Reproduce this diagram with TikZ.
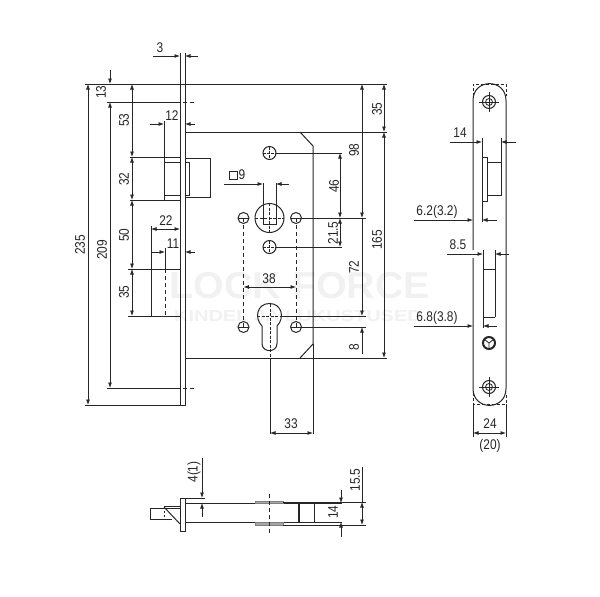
\documentclass[tikz,border=0pt]{standalone}
\usepackage{fontspec}
\setmainfont{Liberation Sans}
\usetikzlibrary{arrows.meta}
\definecolor{inkline}{gray}{0.15}
\definecolor{markfill}{gray}{0.945}
\tikzset{
	line/.style={draw=inkline, line width=1pt},
	thin line/.style={draw=inkline, line width=0.8pt},
	hidden/.style={draw=inkline, line width=1pt, dash pattern=on 4pt off 3pt},
	dimtip/.style={thin line, -{Latex[length=5.5pt,width=4pt]}},
	dimtips/.style={thin line, {Latex[length=5.5pt,width=4pt]}-{Latex[length=5.5pt,width=4pt]}},
	dimfont/.style={inner sep=0, text=inkline, font=\fontsize{14}{15}\selectfont},
	dimtext/.style={dimfont, xscale=0.85},
	dimup/.style={dimfont, rotate=90, xscale=0.85},
	watermark/.style={inner sep=0, text=markfill, font=\bfseries\fontsize{37.5}{38}\selectfont}
}
\begin{document}
\begin{tikzpicture}[x=1pt, y=-1pt]
	\useasboundingbox (0, 0) rectangle (600, 597);
	% watermark
	\node[watermark, xscale=1.05] (brand) at (300, 286) {LOCK FORCE};
	\node[watermark, font=\bfseries\fontsize{16}{17}\selectfont, xscale=1.25] (slogan) at (298, 316) {KINDEL JA LUKUSTUSED};

	% front view, forend
	\draw[line] (180, 53) -- (180, 405) -- (185, 405) -- (185, 53);
	\draw[line] (85, 84) -- (387, 84);
	\draw[line] (85, 405) -- (185, 405);
	\draw[line] (185, 132) -- (387, 132);
	\draw[line] (185, 358) -- (387, 358);
	\draw[line] (300, 132) -- (313, 146) -- (313, 344) -- (300, 358);
	\draw[line] (313, 344) -- (313, 434);
	% latch and bolts
	\draw[line] (130, 157) -- (180, 157) (130, 200) -- (180, 200);
	\draw[line] (164, 121) -- (164, 200) (164, 162) -- (180, 162) (164, 195) -- (180, 195);
	\draw[line] (185, 162) -- (189, 162) -- (189, 195) -- (185, 195);
	\draw[line] (185, 158) -- (210, 158) -- (210, 197) -- (185, 197);
	\draw[line] (128, 269) -- (180, 269) (128, 316) -- (180, 316);
	\draw[line] (151, 226) -- (151, 316);
	\draw[line] (165, 248) -- (165, 269);
	\draw[hidden] (165, 269) -- (165, 316);
	% holes
	\foreach \y in {153, 247} {
		\draw[line] (269.5, \y) circle (6.5);
		\draw[hidden, dash pattern=on 3pt off 1pt] (263, \y) -- (276, \y) (269.5, \y-6.5) -- (269.5, \y+6.5);
	}
	\foreach \x in {243.5, 296} {
		\draw[line] (\x, 218) circle (5.5);
		\draw[line] (\x, 327) circle (5.5);
		\draw[thin line] (\x-5.5, 218) -- (\x+5.5, 218) (\x-5.5, 327) -- (\x+5.5, 327);
		\draw[hidden] (\x, 218) -- (\x, 327);
	}
	% spindle
	\draw[line] (269.5, 218) circle (14.5);
	\draw[line] (263, 183) -- (263, 224) -- (276, 224) -- (276, 183);
	\draw[hidden, dash pattern=on 3pt off 1.5pt] (255, 218) -- (284, 218) (269.5, 203) -- (269.5, 233);
	% key hole
	\draw[line] (262, 326) .. controls (254, 318) and (257, 303.5) .. (269.5, 303.5)
		.. controls (282, 303.5) and (285, 318) .. (277, 326) -- (277, 343.5)
		.. controls (277, 353) and (262, 353) .. (262, 343.5) -- cycle;
	\draw[hidden, dash pattern=on 3pt off 1.5pt] (257, 316) -- (282, 316) (270, 304) -- (270, 358);
	\draw[line] (270, 358) -- (270, 434);

	% left dimensions
	\draw[dimtips] (88, 84) -- (88, 405);
	\node[dimup] (l235) at (80, 245) {235};
	\draw[line] (107, 102) -- (176, 102) (107, 388) -- (176, 388);
	\draw[hidden] (176, 102) -- (195, 102) (176, 388) -- (195, 388);
	\draw[dimtips] (110, 102) -- (110, 388);
	\node[dimup] (l209) at (102, 250) {209};
	\draw[dimtip] (110, 70) -- (110, 84);
	\node[dimup] (l13) at (101, 92) {13};
	\draw[dimtips] (132, 84) -- (132, 157);
	\draw[dimtips] (132, 157) -- (132, 200);
	\draw[dimtips] (132, 200) -- (132, 269);
	\draw[dimtips] (132, 269) -- (132, 316);
	\node[dimup] (l53) at (124, 120) {53};
	\node[dimup] (l32) at (124, 179) {32};
	\node[dimup] (l50) at (124, 235) {50};
	\node[dimup] (l35) at (124, 292) {35};
	% top dimensions
	\draw[dimtip] (153, 56) -- (180, 56);
	\draw[dimtip] (198, 56) -- (185, 56);
	\node[dimtext] (t3) at (160, 48) {3};
	\draw[dimtip] (150, 124) -- (164, 124);
	\draw[dimtip] (195, 124) -- (185, 124);
	\node[dimtext] (t12) at (172, 116) {12};
	\draw[dimtips] (151, 229) -- (180, 229);
	\node[dimtext] (t22) at (166, 221) {22};
	\draw[dimtip] (151, 252) -- (165, 252);
	\draw[dimtip] (195, 252) -- (185, 252);
	\node[dimtext] (t11) at (173, 244) {11};
	% spindle size
	\draw[dimtip] (224, 184) -- (263, 184);
	\draw[dimtip] (289, 184) -- (276, 184);
	\draw[thin line] (229, 171) rectangle (237, 179);
	\node[dimtext] (t9) at (242, 175) {9};
	% right dimensions
	\draw[line] (276, 153) -- (342, 153) (301, 218) -- (366, 218) (276, 247) -- (342, 247);
	\draw[dimtips] (340, 153) -- (340, 218);
	\draw[dimtips] (340, 218) -- (340, 247);
	\node[dimup] (r46) at (334, 186) {46};
	\node[dimup] (r215) at (333, 233) {21.5};
	\draw[dimtips] (362, 84) -- (362, 218);
	\node[dimup] (r98) at (354, 150) {98};
	\draw[line] (282, 316) -- (366, 316) (301, 327) -- (366, 327);
	\draw[dimtip] (362, 218) -- (362, 316);
	\node[dimup] (r72) at (354, 267) {72};
	\draw[dimtip] (362, 354) -- (362, 327);
	\node[dimup] (r8) at (354, 347) {8};
	\draw[dimtips] (384, 84) -- (384, 132);
	\draw[dimtips] (384, 132) -- (384, 358);
	\node[dimup] (r35) at (377, 109) {35};
	\node[dimup] (r165) at (377, 240) {165};
	\draw[dimtips] (270, 433) -- (313, 433);
	\node[dimtext] (b33) at (291, 424) {33};
	\node[dimtext] (m38) at (269, 279) {38};
	\draw[dimtips] (243.5, 287) -- (296, 287);

	% side view
	\draw[line] (473, 250) -- (473, 100.5) .. controls (473, 78) and (506, 78) .. (506, 100.5) -- (506, 388.5)
		.. controls (506, 411) and (473, 411) .. (473, 388.5) -- (473, 258);
	\draw[hidden, dash pattern=on 3pt off 2pt] (473, 96) -- (473, 84) -- (506, 84) -- (506, 96);
	\draw[hidden, dash pattern=on 3pt off 2pt] (473, 393) -- (473, 404) -- (506, 404) -- (506, 393);
	\draw[line] (482, 138) -- (482, 222) (501, 138) -- (501, 162);
	\draw[line] (482, 157) -- (487, 157) -- (487, 201) -- (482, 201);
	\draw[line] (487, 162) -- (501, 162) -- (501, 195) -- (487, 195);
	\draw[line] (483, 250) -- (483, 328) (495, 250) -- (495, 317) (483, 269) -- (495, 269) (483, 317) -- (495, 317);
	% screws
	\foreach \y in {102, 387} {
		\draw[line] (489, \y) circle (6.5);
		\draw[thin line] (489, \y) circle (3.5);
		\draw[thin line] (479, \y) -- (499, \y) (489, \y-10) -- (489, \y+10);
	}
	\draw[draw=inkline, line width=2pt] (489, 343) circle (6);
	\draw[thin line] (489, 343) -- (489, 349) (489, 343) -- (484, 339) (489, 343) -- (494, 339);
	% side dimensions
	\draw[dimtip] (450, 142) -- (482, 142);
	\draw[dimtip] (516, 142) -- (501, 142);
	\node[dimtext] (s14) at (460, 133) {14};
	\draw[dimtip] (414, 220) -- (473, 220);
	\draw[dimtip] (497, 220) -- (482, 220);
	\node[dimtext] (s62) at (437, 212) {6.2(3.2)};
	\draw[dimtip] (447, 254) -- (483, 254);
	\draw[dimtip] (509, 254) -- (495, 254);
	\node[dimtext] (s85) at (458, 245) {8.5};
	\draw[dimtip] (414, 326) -- (473, 326);
	\draw[dimtip] (497, 326) -- (483, 326);
	\node[dimtext] (s68) at (437, 318) {6.8(3.8)};
	\draw[line] (473, 404) -- (473, 437) (506, 404) -- (506, 437);
	\draw[dimtips] (473, 433) -- (506, 433);
	\node[dimtext] (s24) at (490, 424) {24};
	\node[dimtext] (s20) at (490, 446) {(20)};

	% bottom view
	\draw[line] (180, 498) rectangle (185, 531);
	\draw[line] (185, 498) -- (205, 498);
	\draw[line] (164, 506) -- (180, 506);
	\draw[line] (180, 508) -- (150, 508) -- (150, 519) -- (172, 519);
	\draw[line] (164, 507) -- (180, 524);
	\draw[hidden, dash pattern=on 2pt off 2pt] (164, 507) -- (164, 519);
	\draw[line] (185, 503) -- (342, 503) (185, 522) -- (342, 522);
	\draw[draw=gray, line width=0.5pt, fill=gray!70] (255, 501) rectangle (283, 503);
	\draw[draw=gray, line width=0.5pt, fill=gray!70] (255, 522) rectangle (283, 525);
	\draw[thin line] (283, 502) -- (366, 502) (283, 525) -- (366, 525);
	\draw[hidden] (269, 494) -- (269, 533);
	\draw[line, line width=1.4pt] (299, 503) -- (299, 522);
	\draw[line] (314, 503) -- (314, 522);
	\draw[dimtip] (202, 458) -- (202, 498);
	\draw[dimtip] (202, 517) -- (202, 503);
	\node[dimup] (u41) at (194, 472) {4(1)};
	\draw[dimtip] (341, 490) -- (341, 503);
	\draw[dimtip] (341, 537) -- (341, 522);
	\node[dimup] (u14) at (333, 512) {14};
	\draw[thin line] (362, 467) -- (362, 502);
	\draw[dimtips] (362, 502) -- (362, 525);
	\node[dimup] (u155) at (355, 480) {15.5};
\end{tikzpicture}
\end{document}
